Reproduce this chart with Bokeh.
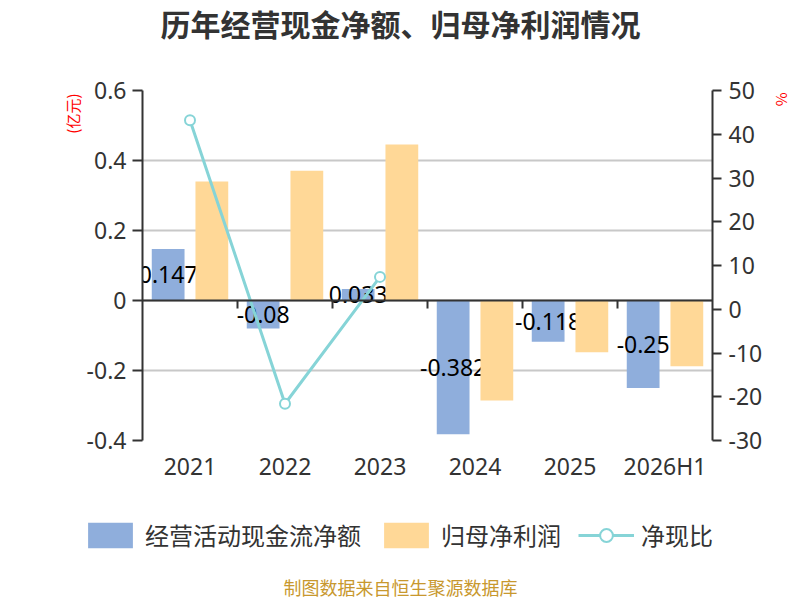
from bokeh.plotting import figure
from bokeh.layouts import column
from bokeh.models import (ColumnDataSource, Range1d, LinearAxis, FixedTicker, Title, Label,
                          Legend, LegendItem, CustomJSTickFormatter, FactorRange)
from bokeh.transform import dodge
from bokeh.core.properties import value
from bokeh.embed import file_html
from bokeh.resources import INLINE

# ---- data ----
years = ["2021", "2022", "2023", "2024", "2025", "2026H1"]
cash_flow = [0.147, -0.08, 0.033, -0.382, -0.118, -0.25]      # 经营活动现金流净额 (亿元)
net_profit = [0.34, 0.371, 0.446, -0.286, -0.148, -0.188]     # 归母净利润 (亿元)
ratio = [43.2, -21.6, 7.4, float("nan"), float("nan"), float("nan")]  # 净现比 (%)
left_ticks = [-0.4, -0.2, 0, 0.2, 0.4, 0.6]
left_tick_labels = ["-0.4", "-0.2", "0", "0.2", "0.4", "0.6"]
right_ticks = [-30, -20, -10, 0, 10, 20, 30, 40, 50]
right_tick_labels = ["-30", "-20", "-10", "0", "10", "20", "30", "40", "50"]
series_names = ["经营活动现金流净额", "归母净利润", "净现比"]
title_text = "历年经营现金净额、归母净利润情况"
source_text = "制图数据来自恒生聚源数据库"

BLUE = "#8FAEDC"
ORANGE = "#FFD897"
TEAL = "#86D4D7"
DARK = "#333333"
CJK = "Noto Sans CJK SC"
NUM = "Noto Sans"
W = 800
H_HEAD, H_MAIN, H_FOOT = 70, 430, 100


def blank_fig(h):
    f = figure(width=W, height=h, x_range=Range1d(0, W), y_range=Range1d(0, h),
               x_axis_type=None, y_axis_type=None, output_backend="svg",
               toolbar_location=None, min_border=0)
    f.frame_align = False
    f.outline_line_color = None
    f.grid.visible = False
    f.background_fill_color = "white"
    f.border_fill_color = "white"
    return f


# ---- header ----
head = blank_fig(H_HEAD)
head.add_layout(Label(x=W / 2, y=H_HEAD - 22, text=title_text, text_align="center",
                      text_baseline="middle", text_font=CJK, text_font_size="30px",
                      text_font_style="bold", text_color=DARK))

# ---- main chart ----
src = ColumnDataSource(dict(
    year=years, cash=cash_flow, profit=net_profit, ratio=ratio,
    label_y=[v / 2 for v in cash_flow], label=[str(v) for v in cash_flow],
))

p = figure(x_range=FactorRange(*years), y_range=Range1d(-0.4, 0.6),
           width=W, height=H_MAIN, output_backend="svg", toolbar_location=None,
           min_border_left=142, min_border_right=87, min_border_top=20, min_border_bottom=60)
p.frame_align = False
p.outline_line_color = None
p.background_fill_color = "white"
p.border_fill_color = "white"
p.extra_y_ranges = {"pct": Range1d(-30, 50)}

ya = p.yaxis[0]
ya.ticker = FixedTicker(ticks=left_ticks)
ya.major_label_overrides = dict(zip(left_ticks, left_tick_labels))
ya.axis_line_color = DARK
ya.axis_line_width = 2
ya.major_tick_line_color = DARK
ya.major_tick_line_width = 2
ya.major_tick_out = 10
ya.major_tick_in = 0
ya.minor_tick_line_color = None
ya.major_label_text_font = NUM
ya.major_label_text_font_size = "23px"
ya.major_label_text_color = DARK
ya.major_label_standoff = 6

p.xgrid.grid_line_color = None
p.ygrid.ticker = FixedTicker(ticks=left_ticks)
p.ygrid.grid_line_color = "#C8C8C8"
p.ygrid.grid_line_width = 2

xa = p.xaxis[0]
xa.axis_line_color = None
xa.major_tick_line_color = None
xa.minor_tick_line_color = None
xa.major_label_text_font = NUM
xa.major_label_text_font_size = "23px"
xa.major_label_text_color = DARK
xa.major_label_standoff = 3

zero_axis = LinearAxis(fixed_location=0, ticker=FixedTicker(ticks=list(range(1, len(years)))),
                       formatter=CustomJSTickFormatter(code="return ''"),
                       axis_line_color=DARK, axis_line_width=2,
                       major_tick_line_color=DARK, major_tick_line_width=2,
                       major_tick_out=8, major_tick_in=0, minor_tick_line_color=None,
                       major_label_text_font_size="1px")
p.add_layout(zero_axis, "below")

ra = LinearAxis(y_range_name="pct", ticker=FixedTicker(ticks=right_ticks))
ra.major_label_overrides = dict(zip(right_ticks, right_tick_labels))
ra.axis_line_color = DARK
ra.axis_line_width = 2
ra.major_tick_line_color = DARK
ra.major_tick_line_width = 2
ra.major_tick_out = 9
ra.major_tick_in = 0
ra.minor_tick_line_color = None
ra.major_label_text_font = NUM
ra.major_label_text_font_size = "23px"
ra.major_label_text_color = DARK
ra.major_label_standoff = 7
p.add_layout(ra, "right")

p.add_layout(Title(text="(亿元)", align="right", offset=3, standoff=1,
                   text_font=CJK, text_font_size="15px", text_font_style="normal",
                   text_color="red"), "left")
p.add_layout(Title(text="%", align="left", offset=2, standoff=12,
                   text_font=CJK, text_font_size="15px", text_font_style="normal",
                   text_color="red"), "right")

p.vbar(x=dodge("year", -0.23, range=p.x_range), top="cash", bottom=0, width=0.345,
       source=src, fill_color=BLUE, line_color=None)
p.text(x=dodge("year", -0.23, range=p.x_range), y="label_y", text="label", source=src,
       text_align="center", text_baseline="middle", text_font=value(NUM),
       text_font_size="23px", text_color="black")
p.vbar(x=dodge("year", 0.23, range=p.x_range), top="profit", bottom=0, width=0.345,
       source=src, fill_color=ORANGE, line_color=None)
p.line(x="year", y="ratio", source=src, y_range_name="pct", line_color=TEAL, line_width=3)
p.scatter(x="year", y="ratio", source=src, y_range_name="pct", size=10,
          fill_color="white", line_color=TEAL, line_width=2)

# ---- footer: legend + source ----
foot = blank_fig(H_FOOT)
nan = float("nan")
proxy = ColumnDataSource(dict(x=[nan], y=[nan]))   # legend proxies, draw nothing
lb = foot.vbar(x="x", top="y", width=1, source=proxy, fill_color=BLUE, line_color=None)
lo = foot.vbar(x="x", top="y", width=1, source=proxy, fill_color=ORANGE, line_color=None)
ll = foot.line(x="x", y="y", source=proxy, line_color=TEAL, line_width=3)
ls = foot.scatter(x="x", y="y", source=proxy, size=10, fill_color="white",
                  line_color=TEAL, line_width=2)
legend = Legend(items=[
    LegendItem(label=series_names[0], renderers=[lb]),
    LegendItem(label=series_names[1], renderers=[lo]),
    LegendItem(label=series_names[2], renderers=[ll, ls]),
], orientation="horizontal", location=(82, 48), padding=0, margin=0, spacing=17,
    glyph_width=56, glyph_height=32, label_standoff=7,
    label_text_font=CJK, label_text_font_size="24px", label_text_color=DARK,
    border_line_color=None, background_fill_alpha=0)
foot.add_layout(legend)
foot.add_layout(Label(x=W / 2, y=14, text=source_text, text_align="center",
                      text_baseline="middle", text_font=CJK, text_font_size="18px",
                      text_color="#C8982E"))

layout = column(head, p, foot, spacing=0)
open("out.html", "w").write(file_html(layout, INLINE))
